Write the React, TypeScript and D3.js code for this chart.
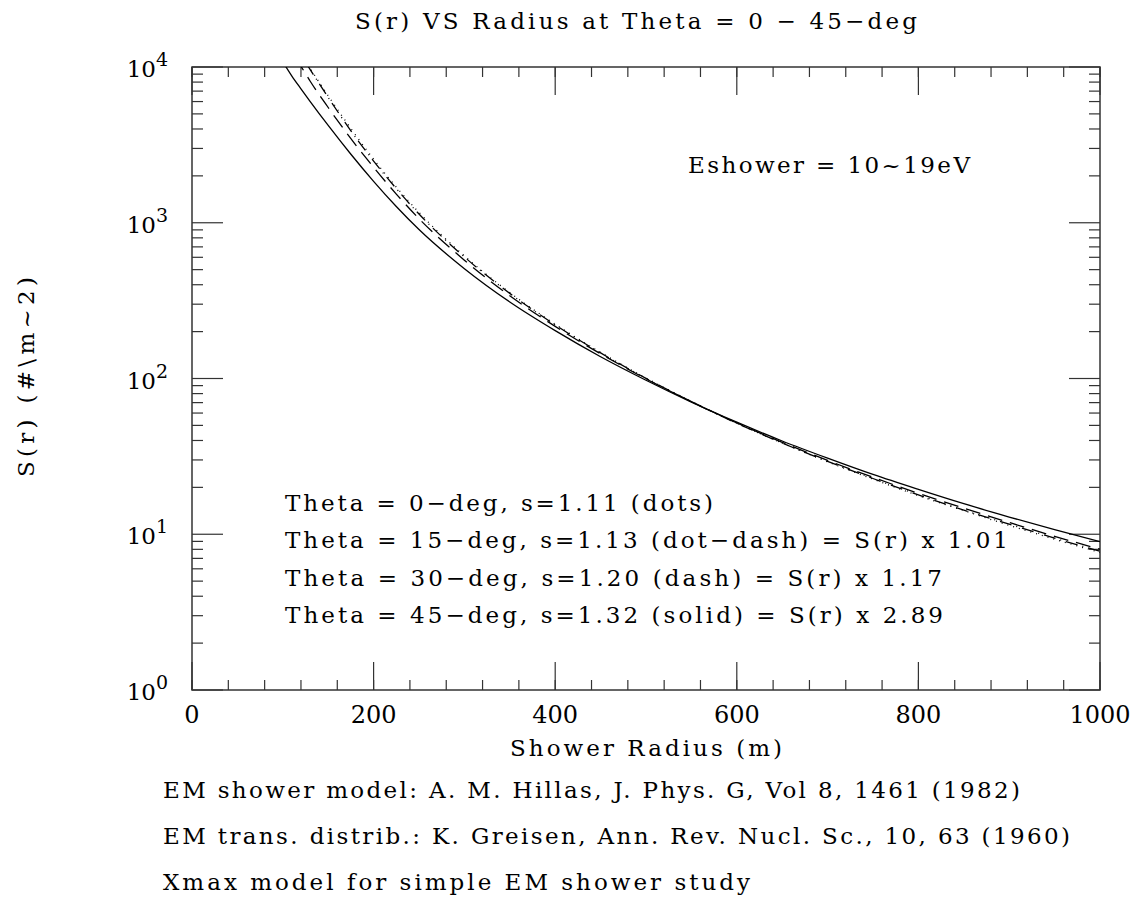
import React from 'react';
import * as d3 from 'd3';

const width = 1138;
const height = 900;
const left = 192, right = 1100, top = 67, bottom = 690;
const font = '"DejaVu Serif", serif';

// shower radius (m)
const radius = [100, 110, 120, 130, 150, 175, 200, 225, 250, 300, 350, 400, 450, 500, 550, 600, 650, 700, 750, 800, 850, 900, 950, 1000];
// S(r) for each zenith angle
const sDots = [18967, 15031, 12162, 9817, 6531, 4027, 2559, 1694, 1164, 612, 356, 223, 147, 100.7, 71.1, 51.6, 38.5, 29.2, 22.6, 17.7, 14.2, 11.4, 9.29, 7.64];
const sDotDash = [18535, 14689, 11885, 9661, 6383, 3890, 2489, 1656, 1138, 603, 352, 221, 146, 100.2, 71.0, 51.6, 38.5, 29.4, 22.8, 17.9, 14.3, 11.6, 9.44, 7.78];
const sDash = [15241, 12218, 10100, 8128, 5495, 3467, 2270, 1528, 1062, 575, 340, 216, 144, 99.5, 71.0, 51.9, 38.9, 29.8, 23.2, 18.3, 14.7, 11.9, 9.70, 8.02];
const sSolid = [10789, 8750, 7244, 6026, 4217, 2754, 1845, 1271, 904, 507, 310, 203, 138, 97.5, 70.6, 52.4, 39.7, 30.8, 24.2, 19.4, 15.7, 12.9, 10.7, 8.97];

const xTicks = [0, 200, 400, 600, 800, 1000];
const yTicks = [1, 10, 100, 1000, 10000];
const yExp = ['0', '1', '2', '3', '4'];

const legendLines = [
    'Theta = 0\u2212deg, s=1.11 (dots)',
    'Theta = 15\u2212deg, s=1.13 (dot\u2212dash) = S(r) x 1.01',
    'Theta = 30\u2212deg, s=1.20 (dash) = S(r) x 1.17',
    'Theta = 45\u2212deg, s=1.32 (solid) = S(r) x 2.89',
];
const legendWidths = [428, 723, 657, 658];
const legendBase = [511, 548, 586, 623];
const notes = [
    'EM shower model: A. M. Hillas, J. Phys. G, Vol 8, 1461 (1982)',
    'EM trans. distrib.: K. Greisen, Ann. Rev. Nucl. Sc., 10, 63 (1960)',
    'Xmax model for simple EM shower study',
];
const noteWidths = [857, 907, 587];

const x = d3.scaleLinear().domain([0, 1000]).range([left, right]);
const y = d3.scaleLog().domain([1, 10000]).range([bottom, top]);

const series = [
    { values: sDots, dash: '1 5' },
    { values: sDotDash, dash: '12 5 1 5' },
    { values: sDash, dash: '15 8' },
    { values: sSolid, dash: null },
];

const xMinor = d3.range(0, 1001, 40);
const yMinor = [1, 10, 100, 1000].flatMap(d => d3.range(2, 10).map(k => d * k));

const App = () => {
    const line = (vals: number[]) =>
        d3.line<number>().x((d, i) => x(radius[i])).y(d => y(d)).curve(d3.curveMonotoneX)(vals) || '';

    const tickCol = '#333';
    const fs = 23;
    return (
        <svg width={width} height={height} style={{ position: 'absolute', left: 0, top: 0, background: '#fff' }}
             fontFamily={font}>
            <defs>
                <clipPath id="plot">
                    <rect x={left} y={top} width={right - left} height={bottom - top} />
                </clipPath>
            </defs>
            <rect x={0} y={0} width={width} height={height} fill="#fff" />
            <text x={355} y={29} fontSize={fs} textLength={562} lengthAdjust="spacing">
                S(r) VS Radius at Theta = 0 {'\u2212'} 45{'\u2212'}deg
            </text>

            {/* frame */}
            <rect x={left} y={top} width={right - left} height={bottom - top} fill="none" stroke={tickCol} strokeWidth={1.5} />

            {/* x ticks */}
            {xMinor.map(v => (
                <g key={'xm' + v} stroke={tickCol} strokeWidth={1.2}>
                    <line x1={x(v)} x2={x(v)} y1={bottom} y2={bottom - 10} />
                    <line x1={x(v)} x2={x(v)} y1={top} y2={top + 10} />
                </g>
            ))}
            {xTicks.map(v => (
                <g key={'xM' + v}>
                    <line x1={x(v)} x2={x(v)} y1={bottom} y2={bottom - 28} stroke={tickCol} strokeWidth={1.2} />
                    <line x1={x(v)} x2={x(v)} y1={top} y2={top + 28} stroke={tickCol} strokeWidth={1.2} />
                    <text x={x(v)} y={723} textAnchor="middle" fontSize={24}>{v}</text>
                </g>
            ))}
            <text x={510} y={756} fontSize={fs} textLength={272} lengthAdjust="spacing">Shower Radius (m)</text>

            {/* y ticks */}
            {yMinor.map(v => (
                <g key={'ym' + v} stroke={tickCol} strokeWidth={1.2}>
                    <line x1={left} x2={left + 11} y1={y(v)} y2={y(v)} />
                    <line x1={right} x2={right - 11} y1={y(v)} y2={y(v)} />
                </g>
            ))}
            {yTicks.map((v, i) => (
                <g key={'yM' + v}>
                    <line x1={left} x2={left + 31} y1={y(v)} y2={y(v)} stroke={tickCol} strokeWidth={1.2} />
                    <line x1={right} x2={right - 31} y1={y(v)} y2={y(v)} stroke={tickCol} strokeWidth={1.2} />
                    <text x={168} y={y(v) + 10} textAnchor="end" fontSize={23}>
                        10<tspan dy={-11} fontSize={19}>{yExp[i]}</tspan>
                    </text>
                </g>
            ))}
            <text transform="translate(34,477) rotate(-90)" fontSize={fs} textLength={200} lengthAdjust="spacing">S(r) (#\m~2)</text>

            {/* curves */}
            <g clipPath="url(#plot)" fill="none" stroke="#000" strokeWidth={1.3}>
                {series.map((s, i) => (
                    <path key={i} d={line(s.values)} strokeDasharray={s.dash || undefined} />
                ))}
            </g>

            <text x={688} y={173} fontSize={fs} textLength={282} lengthAdjust="spacing">Eshower = 10~19eV</text>
            {legendLines.map((t, i) => (
                <text key={i} x={285} y={legendBase[i]} fontSize={fs} textLength={legendWidths[i]} lengthAdjust="spacing">{t}</text>
            ))}
            {notes.map((t, i) => (
                <text key={i} x={163} y={798 + i * 46} fontSize={fs} textLength={noteWidths[i]} lengthAdjust="spacing">{t}</text>
            ))}
        </svg>
    );
};

export default App;
